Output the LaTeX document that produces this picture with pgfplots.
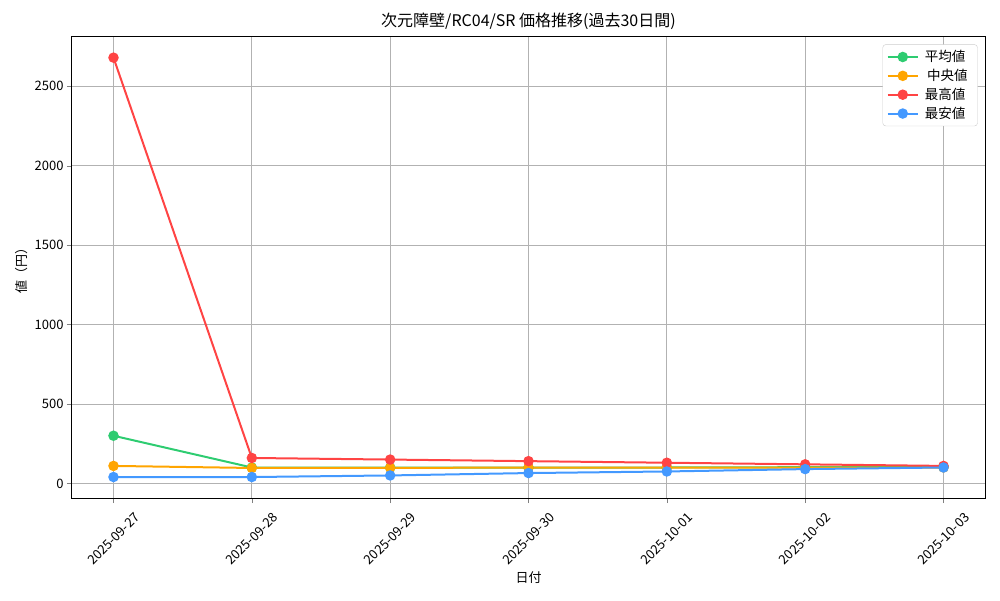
\documentclass[border=0pt]{standalone}
\usepackage{pgfplots}
\pgfplotsset{compat=1.18}
\usepackage{fontspec}
\setmainfont{Noto Sans CJK JP}
\definecolor{cgreen}{HTML}{2ECC71}
\definecolor{corange}{HTML}{FFA500}
\definecolor{cred}{HTML}{FF4444}
\definecolor{cblue}{HTML}{4499FF}
\begin{document}
\begin{tikzpicture}[x=1pt,y=1pt]
\useasboundingbox (-72,-102) rectangle (928,498);
\begin{axis}[
  at={(0,0)}, anchor=south west,
  scale only axis, width=913pt, height=461pt,
  xmin=-0.3, xmax=6.3, ymin=-92, ymax=2810,
  xtick={0,1,2,3,4,5,6},
  xticklabels={2025-09-27,2025-09-28,2025-09-29,2025-09-30,2025-10-01,2025-10-02,2025-10-03},
  ytick={0,500,1000,1500,2000,2500},
  scaled y ticks=false,
  /pgf/number format/assume math mode=true,
  /pgf/number format/1000 sep={},
  tick label style={font=\fontsize{13}{15}\selectfont, black},
  xticklabel style={yshift=-36pt, rotate=45, anchor=center},
  tick pos=left, tick align=outside, major tick length=5pt,
  grid=major, grid style={color=black!30, line width=0.9pt},
  axis line style={line width=1pt},
  title={次元障壁/RC04/SR 価格推移(過去30日間)},
  title style={font=\fontsize{16}{18}\selectfont, yshift=-2pt},
  xlabel={日付}, ylabel={値（円）},
  label style={font=\fontsize{13}{15}\selectfont},
  xlabel style={at={(axis description cs:0.5,0)}, anchor=center, yshift=-80pt},
  legend style={at={(0.992,0.984)}, anchor=north east, draw=black!20, rounded corners=3pt,
    font=\fontsize{13.5}{16}\selectfont, row sep=2pt, inner xsep=4pt, inner ysep=4pt,
    nodes={inner xsep=6pt}},
  legend cell align=left,
  legend image code/.code={
    \draw[#1] (0pt,0pt) -- (30pt,0pt);
    \draw[#1, mark repeat=2, mark phase=2] plot coordinates {(0pt,0pt) (15pt,0pt) (30pt,0pt)};
  },
]
\addplot[cgreen, line width=2pt, mark=*, mark size=4.2pt, mark options={draw=cgreen, fill=cgreen}]
 coordinates {(0,300) (1,100) (2,100) (3,100) (4,100) (5,102) (6,104)};
\addlegendentry{平均値}
\addplot[corange, line width=2pt, mark=*, mark size=4.2pt, mark options={draw=corange, fill=corange}]
 coordinates {(0,110) (1,97) (2,98) (3,99) (4,100) (5,100) (6,100)};
\addlegendentry{\,中央値}
\addplot[cred, line width=2pt, mark=*, mark size=4.2pt, mark options={draw=cred, fill=cred}]
 coordinates {(0,2680) (1,160) (2,150) (3,140) (4,130) (5,120) (6,110)};
\addlegendentry{最高値}
\addplot[cblue, line width=2pt, mark=*, mark size=4.2pt, mark options={draw=cblue, fill=cblue}]
 coordinates {(0,40) (1,40) (2,50) (3,65) (4,75) (5,90) (6,100)};
\addlegendentry{最安値}
\end{axis}
\end{tikzpicture}
\end{document}
